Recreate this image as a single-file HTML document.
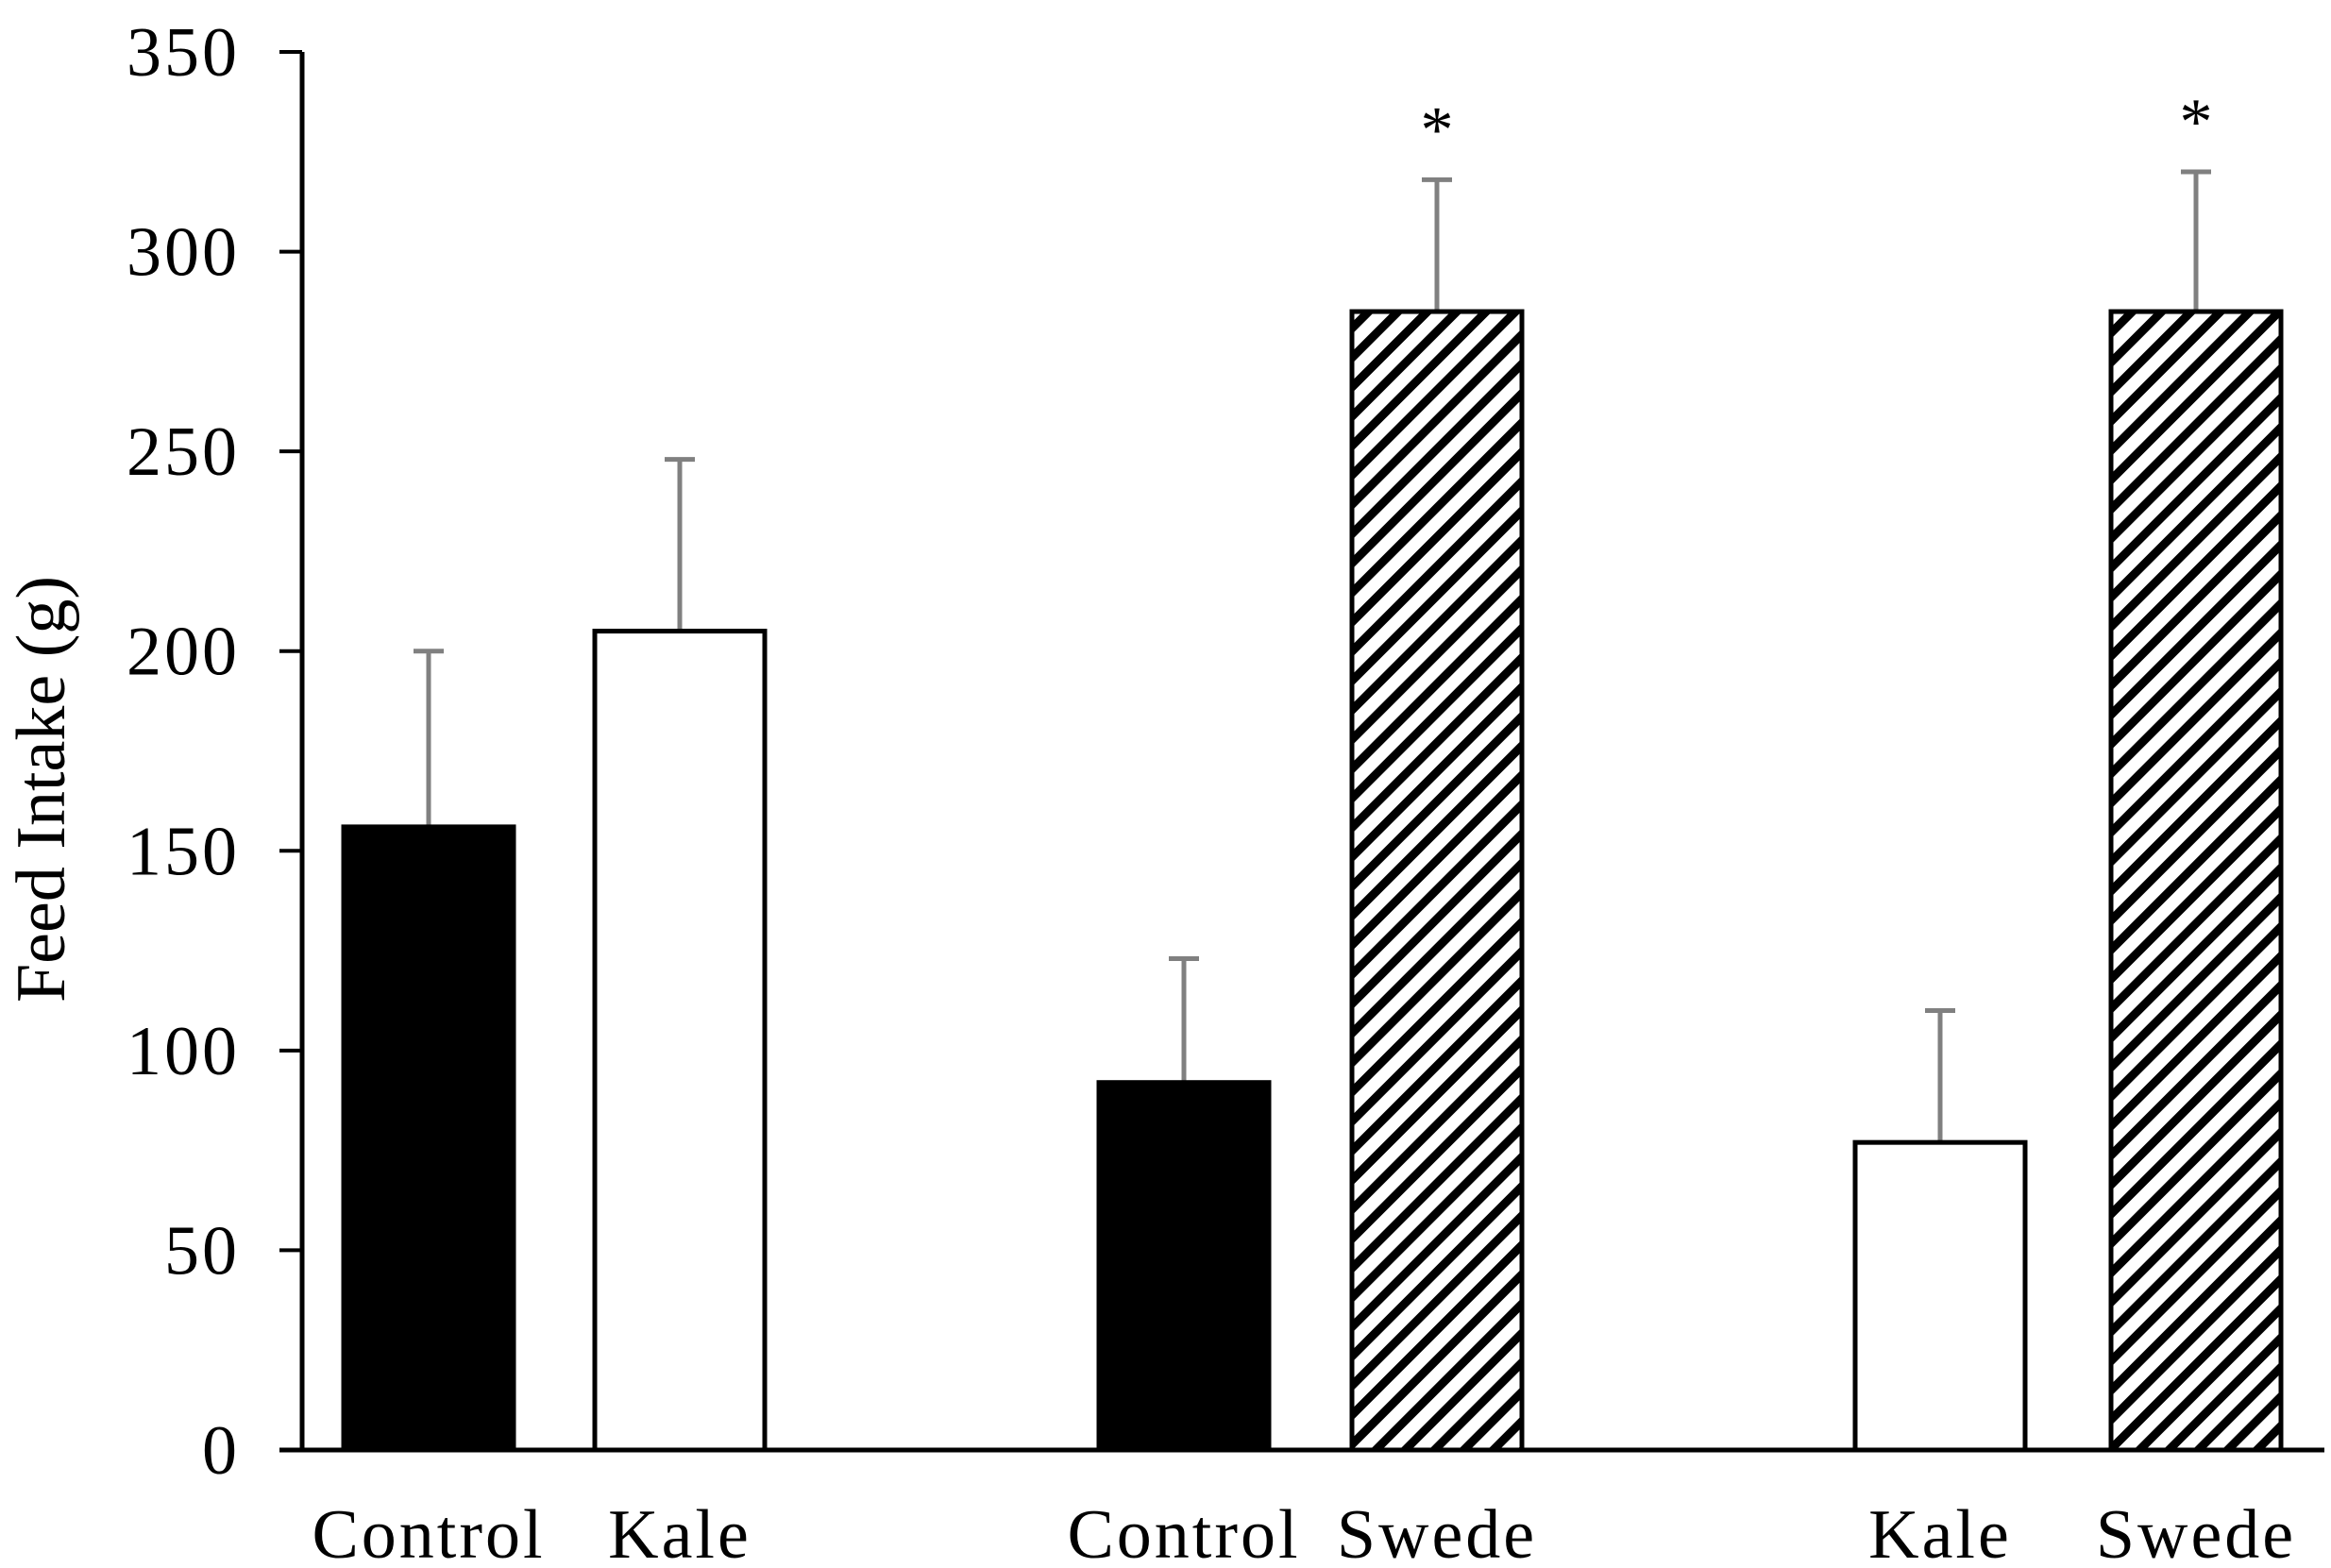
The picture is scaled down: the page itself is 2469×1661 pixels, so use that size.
<!DOCTYPE html>
<html><head><meta charset="utf-8"><style>
html,body{margin:0;padding:0;background:#fff;}
svg{display:block;font-family:"Liberation Serif",serif;}
</style></head><body>
<svg id="chart" width="2469" height="1661" viewBox="0 0 2469 1661" xmlns="http://www.w3.org/2000/svg">
<defs>
<pattern id="hatch" patternUnits="userSpaceOnUse" width="22" height="22" patternTransform="rotate(45)">
<rect width="22" height="22" fill="#fff"/><rect x="0" y="0" width="9" height="22" fill="#000"/>
</pattern>
</defs>
<g id="plot"></g>
</svg>
<script>
const categories = ["Control","Kale","Control","Swede","Kale","Swede"];
const values = [156,205,92,285,77,285];
const errors = [44,43,31,33,33,35];
const fills = ["black","white","black","hatch","white","hatch"];
const significant = [false,false,false,true,false,true];
const yTicks = [0,50,100,150,200,250,300,350];
const centers = [454,720,1254,1522,2055,2326];

const NS="http://www.w3.org/2000/svg";
const g=document.getElementById('plot');
const y0=1536, yTop=55, vmax=350;
function y(v){return y0-(v/vmax)*(y0-yTop);}
function mk(tag,attrs,parent){const e=document.createElementNS(NS,tag);for(const k in attrs)e.setAttribute(k,attrs[k]);(parent||g).appendChild(e);return e;}

let ax=mk('line',{x1:320,y1:yTop,x2:320,y2:y0+2,stroke:'#000','stroke-width':5});


let xa=mk('line',{x1:296,y1:y0,x2:2462,y2:y0,stroke:'#000','stroke-width':5});


yTicks.forEach(t=>{
  const tk=mk('line',{x1:296,y1:y(t),x2:320,y2:y(t),stroke:'#000','stroke-width':4});
  
  
  const tl=mk('text',{x:254,y:y(t)+25,'text-anchor':'end','font-size':74,'letter-spacing':3});
  tl.textContent=t;
  
  
});
const title=mk('text',{x:0,y:0,'text-anchor':'middle','font-size':74,transform:'translate(68,836) rotate(-90)'});
title.textContent='Feed Intake (g)';



const bw=180;
categories.forEach((c,i)=>{
  const cx=centers[i], top=y(values[i]);
  const f=fills[i]==='black'?'#000':fills[i]==='white'?'#fff':'url(#hatch)';
  const er=mk('line',{x1:cx,y1:top,x2:cx,y2:y(values[i]+errors[i]),stroke:'#808080','stroke-width':5});
  
  
  const cap=mk('line',{x1:cx-16,y1:y(values[i]+errors[i]),x2:cx+16,y2:y(values[i]+errors[i]),stroke:'#808080','stroke-width':5});
  
  
  const b=mk('rect',{x:cx-bw/2,y:top,width:bw,height:y0-top,fill:f,stroke:'#000','stroke-width':5});
  
  
  const l=mk('text',{x:cx,y:1650,'text-anchor':'middle','font-size':74,'letter-spacing':3});
  l.textContent=c;
  
  
  if(significant[i]){
    const s=mk('text',{x:cx,y:y(values[i]+errors[i])-30,'text-anchor':'middle','font-size':70});
    s.textContent='*';
    
    
  }
});
</script>
</body></html>
